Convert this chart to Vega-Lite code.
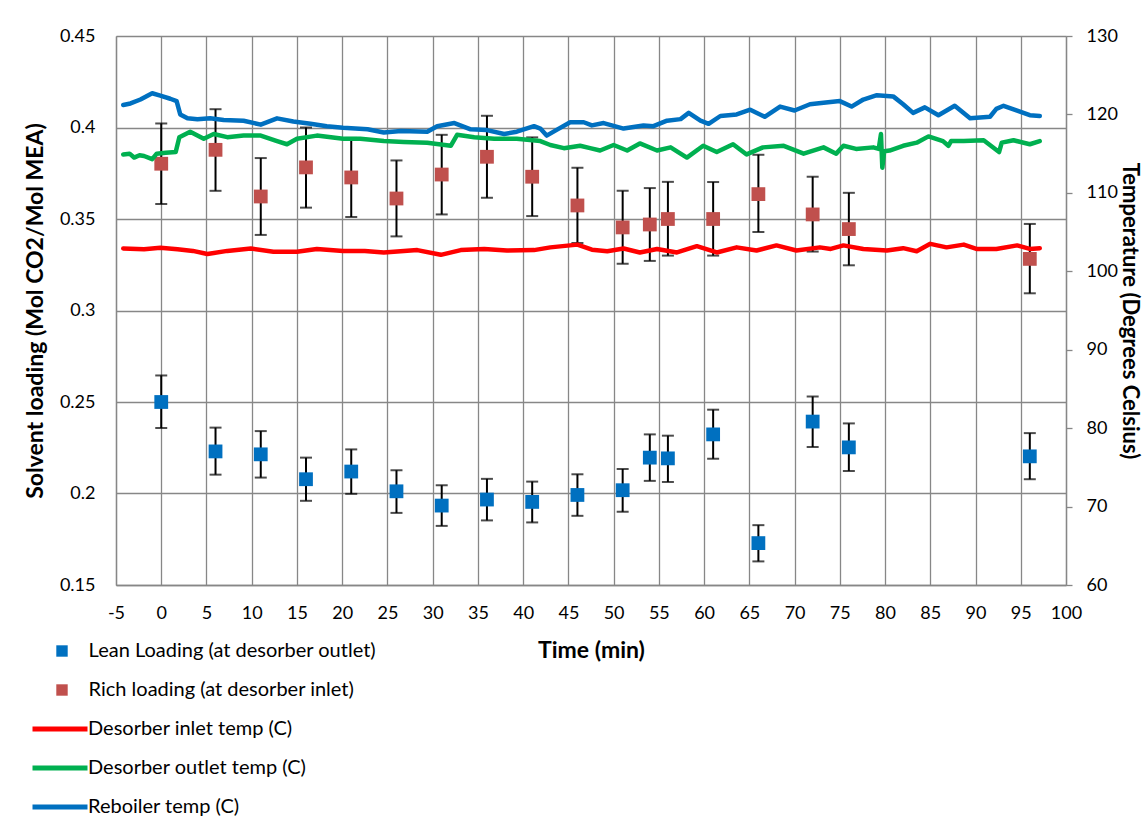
{
  "$schema": "https://vega.github.io/schema/vega-lite/v6.json",
  "width": 950,
  "height": 549,
  "autosize": {"type": "none"},
  "padding": {"left": 116, "top": 36, "right": 81, "bottom": 238},
  "background": "white",
  "config": {
    "font": "Lato",
    "view": {"stroke": null},
    "axis": {
      "labelFont": "Lato", "labelFontSize": 18, "labelColor": "#000000",
      "titleFont": "Lato", "titleFontSize": 23, "titleFontWeight": "bold", "titleColor": "#000000",
      "domainColor": "#878787", "domainWidth": 1.3,
      "gridColor": "#878787", "gridWidth": 1.3, "gridOpacity": 1,
      "tickColor": "#878787", "tickWidth": 1.3
    },
    "legend": {"labelFont": "Lato", "labelFontSize": 20, "labelColor": "#000000", "padding": 0}
  },
  "datasets": {
    "loading": [
      {"t":0,"s":"Lean Loading (at desorber outlet)","v":0.2500,"lo":0.2358,"hi":0.2645},
      {"t":6,"s":"Lean Loading (at desorber outlet)","v":0.2230,"lo":0.2103,"hi":0.2360},
      {"t":11,"s":"Lean Loading (at desorber outlet)","v":0.2214,"lo":0.2087,"hi":0.2341},
      {"t":16,"s":"Lean Loading (at desorber outlet)","v":0.2078,"lo":0.1960,"hi":0.2196},
      {"t":21,"s":"Lean Loading (at desorber outlet)","v":0.2120,"lo":0.1998,"hi":0.2241},
      {"t":26,"s":"Lean Loading (at desorber outlet)","v":0.2012,"lo":0.1894,"hi":0.2127},
      {"t":31,"s":"Lean Loading (at desorber outlet)","v":0.1934,"lo":0.1823,"hi":0.2045},
      {"t":36,"s":"Lean Loading (at desorber outlet)","v":0.1967,"lo":0.1853,"hi":0.2080},
      {"t":41,"s":"Lean Loading (at desorber outlet)","v":0.1954,"lo":0.1842,"hi":0.2065},
      {"t":46,"s":"Lean Loading (at desorber outlet)","v":0.1992,"lo":0.1878,"hi":0.2105},
      {"t":51,"s":"Lean Loading (at desorber outlet)","v":0.2018,"lo":0.1900,"hi":0.2134},
      {"t":54,"s":"Lean Loading (at desorber outlet)","v":0.2196,"lo":0.2069,"hi":0.2323},
      {"t":56,"s":"Lean Loading (at desorber outlet)","v":0.2192,"lo":0.2063,"hi":0.2316},
      {"t":61,"s":"Lean Loading (at desorber outlet)","v":0.2323,"lo":0.2190,"hi":0.2458},
      {"t":66,"s":"Lean Loading (at desorber outlet)","v":0.1729,"lo":0.1629,"hi":0.1827},
      {"t":72,"s":"Lean Loading (at desorber outlet)","v":0.2393,"lo":0.2254,"hi":0.2530},
      {"t":76,"s":"Lean Loading (at desorber outlet)","v":0.2252,"lo":0.2123,"hi":0.2383},
      {"t":96,"s":"Lean Loading (at desorber outlet)","v":0.2203,"lo":0.2078,"hi":0.2330},
      {"t":0,"s":"Rich loading (at desorber inlet)","v":0.3802,"lo":0.3582,"hi":0.4022},
      {"t":6,"s":"Rich loading (at desorber inlet)","v":0.3878,"lo":0.3654,"hi":0.4100},
      {"t":11,"s":"Rich loading (at desorber inlet)","v":0.3623,"lo":0.3413,"hi":0.3833},
      {"t":16,"s":"Rich loading (at desorber inlet)","v":0.3782,"lo":0.3562,"hi":0.4000},
      {"t":21,"s":"Rich loading (at desorber inlet)","v":0.3727,"lo":0.3511,"hi":0.3943},
      {"t":26,"s":"Rich loading (at desorber inlet)","v":0.3612,"lo":0.3405,"hi":0.3820},
      {"t":31,"s":"Rich loading (at desorber inlet)","v":0.3743,"lo":0.3525,"hi":0.3960},
      {"t":36,"s":"Rich loading (at desorber inlet)","v":0.3840,"lo":0.3616,"hi":0.4064},
      {"t":41,"s":"Rich loading (at desorber inlet)","v":0.3731,"lo":0.3516,"hi":0.3946},
      {"t":46,"s":"Rich loading (at desorber inlet)","v":0.3574,"lo":0.3369,"hi":0.3780},
      {"t":51,"s":"Rich loading (at desorber inlet)","v":0.3454,"lo":0.3256,"hi":0.3654},
      {"t":54,"s":"Rich loading (at desorber inlet)","v":0.3470,"lo":0.3271,"hi":0.3669},
      {"t":56,"s":"Rich loading (at desorber inlet)","v":0.3500,"lo":0.3300,"hi":0.3703},
      {"t":61,"s":"Rich loading (at desorber inlet)","v":0.3500,"lo":0.3300,"hi":0.3702},
      {"t":66,"s":"Rich loading (at desorber inlet)","v":0.3636,"lo":0.3429,"hi":0.3851},
      {"t":72,"s":"Rich loading (at desorber inlet)","v":0.3525,"lo":0.3322,"hi":0.3731},
      {"t":76,"s":"Rich loading (at desorber inlet)","v":0.3445,"lo":0.3247,"hi":0.3643},
      {"t":96,"s":"Rich loading (at desorber inlet)","v":0.3282,"lo":0.3094,"hi":0.3473}
    ],
    "temps": [
      {"t":-4.2,"s":"Desorber inlet temp (C)","T":102.9},
      {"t":-1.9,"s":"Desorber inlet temp (C)","T":102.8},
      {"t":-0.1,"s":"Desorber inlet temp (C)","T":103.0},
      {"t":1.8,"s":"Desorber inlet temp (C)","T":102.8},
      {"t":3.5,"s":"Desorber inlet temp (C)","T":102.6},
      {"t":5.1,"s":"Desorber inlet temp (C)","T":102.2},
      {"t":7.3,"s":"Desorber inlet temp (C)","T":102.6},
      {"t":9.9,"s":"Desorber inlet temp (C)","T":102.9},
      {"t":12.4,"s":"Desorber inlet temp (C)","T":102.5},
      {"t":15.0,"s":"Desorber inlet temp (C)","T":102.5},
      {"t":17.2,"s":"Desorber inlet temp (C)","T":102.85},
      {"t":20.1,"s":"Desorber inlet temp (C)","T":102.6},
      {"t":22.5,"s":"Desorber inlet temp (C)","T":102.6},
      {"t":24.6,"s":"Desorber inlet temp (C)","T":102.4},
      {"t":28.3,"s":"Desorber inlet temp (C)","T":102.7},
      {"t":30.9,"s":"Desorber inlet temp (C)","T":102.1},
      {"t":33.1,"s":"Desorber inlet temp (C)","T":102.7},
      {"t":35.7,"s":"Desorber inlet temp (C)","T":102.85},
      {"t":38.2,"s":"Desorber inlet temp (C)","T":102.64},
      {"t":41.2,"s":"Desorber inlet temp (C)","T":102.7},
      {"t":43.0,"s":"Desorber inlet temp (C)","T":103.05},
      {"t":46.0,"s":"Desorber inlet temp (C)","T":103.4},
      {"t":47.6,"s":"Desorber inlet temp (C)","T":102.75},
      {"t":49.3,"s":"Desorber inlet temp (C)","T":102.55},
      {"t":51.1,"s":"Desorber inlet temp (C)","T":102.9},
      {"t":52.9,"s":"Desorber inlet temp (C)","T":102.4},
      {"t":54.8,"s":"Desorber inlet temp (C)","T":102.85},
      {"t":57.0,"s":"Desorber inlet temp (C)","T":102.4},
      {"t":59.2,"s":"Desorber inlet temp (C)","T":103.2},
      {"t":61.4,"s":"Desorber inlet temp (C)","T":102.4},
      {"t":63.6,"s":"Desorber inlet temp (C)","T":103.05},
      {"t":65.8,"s":"Desorber inlet temp (C)","T":102.65},
      {"t":68.0,"s":"Desorber inlet temp (C)","T":103.3},
      {"t":70.2,"s":"Desorber inlet temp (C)","T":102.65},
      {"t":72.8,"s":"Desorber inlet temp (C)","T":103.05},
      {"t":74.0,"s":"Desorber inlet temp (C)","T":102.85},
      {"t":75.4,"s":"Desorber inlet temp (C)","T":103.3},
      {"t":77.6,"s":"Desorber inlet temp (C)","T":102.85},
      {"t":80.2,"s":"Desorber inlet temp (C)","T":102.65},
      {"t":82.0,"s":"Desorber inlet temp (C)","T":102.95},
      {"t":83.5,"s":"Desorber inlet temp (C)","T":102.55},
      {"t":85.0,"s":"Desorber inlet temp (C)","T":103.5},
      {"t":86.8,"s":"Desorber inlet temp (C)","T":103.05},
      {"t":88.7,"s":"Desorber inlet temp (C)","T":103.4},
      {"t":90.1,"s":"Desorber inlet temp (C)","T":102.85},
      {"t":92.3,"s":"Desorber inlet temp (C)","T":102.85},
      {"t":94.6,"s":"Desorber inlet temp (C)","T":103.3},
      {"t":96.0,"s":"Desorber inlet temp (C)","T":102.85},
      {"t":97.1,"s":"Desorber inlet temp (C)","T":102.95},
      {"t":-4.2,"s":"Desorber outlet temp (C)","T":114.9},
      {"t":-3.5,"s":"Desorber outlet temp (C)","T":115.0},
      {"t":-3.0,"s":"Desorber outlet temp (C)","T":114.5},
      {"t":-2.4,"s":"Desorber outlet temp (C)","T":114.8},
      {"t":-1.9,"s":"Desorber outlet temp (C)","T":114.7},
      {"t":-1.0,"s":"Desorber outlet temp (C)","T":114.3},
      {"t":-0.5,"s":"Desorber outlet temp (C)","T":115.0},
      {"t":0.5,"s":"Desorber outlet temp (C)","T":115.1},
      {"t":1.6,"s":"Desorber outlet temp (C)","T":115.2},
      {"t":2.0,"s":"Desorber outlet temp (C)","T":117.1},
      {"t":3.2,"s":"Desorber outlet temp (C)","T":117.8},
      {"t":4.7,"s":"Desorber outlet temp (C)","T":116.9},
      {"t":5.8,"s":"Desorber outlet temp (C)","T":117.5},
      {"t":7.3,"s":"Desorber outlet temp (C)","T":117.1},
      {"t":9.1,"s":"Desorber outlet temp (C)","T":117.3},
      {"t":11.0,"s":"Desorber outlet temp (C)","T":117.3},
      {"t":12.8,"s":"Desorber outlet temp (C)","T":116.6},
      {"t":13.9,"s":"Desorber outlet temp (C)","T":116.2},
      {"t":15.0,"s":"Desorber outlet temp (C)","T":116.9},
      {"t":17.2,"s":"Desorber outlet temp (C)","T":117.3},
      {"t":20.1,"s":"Desorber outlet temp (C)","T":116.9},
      {"t":22.0,"s":"Desorber outlet temp (C)","T":116.9},
      {"t":24.6,"s":"Desorber outlet temp (C)","T":116.6},
      {"t":26.8,"s":"Desorber outlet temp (C)","T":116.5},
      {"t":29.4,"s":"Desorber outlet temp (C)","T":116.4},
      {"t":32.0,"s":"Desorber outlet temp (C)","T":116.0},
      {"t":32.7,"s":"Desorber outlet temp (C)","T":117.4},
      {"t":34.6,"s":"Desorber outlet temp (C)","T":117.1},
      {"t":36.8,"s":"Desorber outlet temp (C)","T":116.9},
      {"t":39.3,"s":"Desorber outlet temp (C)","T":116.9},
      {"t":41.9,"s":"Desorber outlet temp (C)","T":116.6},
      {"t":43.0,"s":"Desorber outlet temp (C)","T":116.1},
      {"t":44.5,"s":"Desorber outlet temp (C)","T":115.7},
      {"t":46.3,"s":"Desorber outlet temp (C)","T":116.0},
      {"t":47.4,"s":"Desorber outlet temp (C)","T":115.7},
      {"t":48.5,"s":"Desorber outlet temp (C)","T":115.4},
      {"t":50.0,"s":"Desorber outlet temp (C)","T":116.1},
      {"t":51.5,"s":"Desorber outlet temp (C)","T":115.4},
      {"t":52.9,"s":"Desorber outlet temp (C)","T":116.3},
      {"t":54.8,"s":"Desorber outlet temp (C)","T":115.4},
      {"t":56.3,"s":"Desorber outlet temp (C)","T":115.8},
      {"t":58.1,"s":"Desorber outlet temp (C)","T":114.5},
      {"t":59.9,"s":"Desorber outlet temp (C)","T":116.0},
      {"t":61.4,"s":"Desorber outlet temp (C)","T":115.2},
      {"t":63.2,"s":"Desorber outlet temp (C)","T":116.2},
      {"t":64.7,"s":"Desorber outlet temp (C)","T":114.9},
      {"t":66.5,"s":"Desorber outlet temp (C)","T":115.8},
      {"t":68.8,"s":"Desorber outlet temp (C)","T":116.0},
      {"t":71.0,"s":"Desorber outlet temp (C)","T":115.0},
      {"t":73.2,"s":"Desorber outlet temp (C)","T":115.8},
      {"t":74.6,"s":"Desorber outlet temp (C)","T":115.0},
      {"t":75.4,"s":"Desorber outlet temp (C)","T":116.0},
      {"t":76.8,"s":"Desorber outlet temp (C)","T":115.6},
      {"t":78.7,"s":"Desorber outlet temp (C)","T":115.8},
      {"t":79.3,"s":"Desorber outlet temp (C)","T":115.6},
      {"t":79.55,"s":"Desorber outlet temp (C)","T":117.5},
      {"t":79.7,"s":"Desorber outlet temp (C)","T":113.2},
      {"t":79.9,"s":"Desorber outlet temp (C)","T":115.3},
      {"t":80.5,"s":"Desorber outlet temp (C)","T":115.4},
      {"t":82.0,"s":"Desorber outlet temp (C)","T":116.0},
      {"t":83.5,"s":"Desorber outlet temp (C)","T":116.4},
      {"t":84.8,"s":"Desorber outlet temp (C)","T":117.2},
      {"t":86.4,"s":"Desorber outlet temp (C)","T":116.6},
      {"t":87.0,"s":"Desorber outlet temp (C)","T":116.0},
      {"t":87.3,"s":"Desorber outlet temp (C)","T":116.6},
      {"t":88.7,"s":"Desorber outlet temp (C)","T":116.6},
      {"t":90.9,"s":"Desorber outlet temp (C)","T":116.7},
      {"t":92.6,"s":"Desorber outlet temp (C)","T":115.2},
      {"t":92.9,"s":"Desorber outlet temp (C)","T":116.4},
      {"t":94.2,"s":"Desorber outlet temp (C)","T":116.7},
      {"t":96.0,"s":"Desorber outlet temp (C)","T":116.2},
      {"t":97.1,"s":"Desorber outlet temp (C)","T":116.6},
      {"t":-4.2,"s":"Reboiler temp (C)","T":121.2},
      {"t":-3.4,"s":"Reboiler temp (C)","T":121.4},
      {"t":-2.3,"s":"Reboiler temp (C)","T":121.9},
      {"t":-1.0,"s":"Reboiler temp (C)","T":122.7},
      {"t":-0.1,"s":"Reboiler temp (C)","T":122.4},
      {"t":1.0,"s":"Reboiler temp (C)","T":122.0},
      {"t":1.7,"s":"Reboiler temp (C)","T":121.7},
      {"t":2.1,"s":"Reboiler temp (C)","T":120.0},
      {"t":2.9,"s":"Reboiler temp (C)","T":119.5},
      {"t":4.0,"s":"Reboiler temp (C)","T":119.4},
      {"t":5.4,"s":"Reboiler temp (C)","T":119.5},
      {"t":6.9,"s":"Reboiler temp (C)","T":119.3},
      {"t":9.1,"s":"Reboiler temp (C)","T":119.2},
      {"t":11.0,"s":"Reboiler temp (C)","T":118.7},
      {"t":12.8,"s":"Reboiler temp (C)","T":119.5},
      {"t":14.6,"s":"Reboiler temp (C)","T":119.1},
      {"t":16.5,"s":"Reboiler temp (C)","T":118.8},
      {"t":18.3,"s":"Reboiler temp (C)","T":118.5},
      {"t":20.1,"s":"Reboiler temp (C)","T":118.3},
      {"t":22.8,"s":"Reboiler temp (C)","T":118.1},
      {"t":24.6,"s":"Reboiler temp (C)","T":117.7},
      {"t":26.5,"s":"Reboiler temp (C)","T":117.9},
      {"t":29.4,"s":"Reboiler temp (C)","T":117.8},
      {"t":30.5,"s":"Reboiler temp (C)","T":118.5},
      {"t":32.4,"s":"Reboiler temp (C)","T":118.9},
      {"t":34.2,"s":"Reboiler temp (C)","T":118.1},
      {"t":36.0,"s":"Reboiler temp (C)","T":118.0},
      {"t":37.9,"s":"Reboiler temp (C)","T":117.5},
      {"t":39.3,"s":"Reboiler temp (C)","T":117.8},
      {"t":41.2,"s":"Reboiler temp (C)","T":118.5},
      {"t":41.9,"s":"Reboiler temp (C)","T":118.2},
      {"t":42.6,"s":"Reboiler temp (C)","T":117.3},
      {"t":43.8,"s":"Reboiler temp (C)","T":118.1},
      {"t":45.2,"s":"Reboiler temp (C)","T":119.0},
      {"t":46.7,"s":"Reboiler temp (C)","T":119.0},
      {"t":47.6,"s":"Reboiler temp (C)","T":118.6},
      {"t":48.9,"s":"Reboiler temp (C)","T":118.9},
      {"t":51.1,"s":"Reboiler temp (C)","T":118.2},
      {"t":53.3,"s":"Reboiler temp (C)","T":118.6},
      {"t":54.4,"s":"Reboiler temp (C)","T":118.5},
      {"t":55.9,"s":"Reboiler temp (C)","T":119.2},
      {"t":57.4,"s":"Reboiler temp (C)","T":119.4},
      {"t":58.3,"s":"Reboiler temp (C)","T":120.2},
      {"t":59.6,"s":"Reboiler temp (C)","T":119.2},
      {"t":60.5,"s":"Reboiler temp (C)","T":118.8},
      {"t":61.8,"s":"Reboiler temp (C)","T":119.8},
      {"t":63.6,"s":"Reboiler temp (C)","T":120.0},
      {"t":65.1,"s":"Reboiler temp (C)","T":120.6},
      {"t":66.7,"s":"Reboiler temp (C)","T":119.7},
      {"t":68.4,"s":"Reboiler temp (C)","T":121.0},
      {"t":70.0,"s":"Reboiler temp (C)","T":120.5},
      {"t":71.7,"s":"Reboiler temp (C)","T":121.3},
      {"t":73.2,"s":"Reboiler temp (C)","T":121.5},
      {"t":75.0,"s":"Reboiler temp (C)","T":121.7},
      {"t":76.3,"s":"Reboiler temp (C)","T":121.0},
      {"t":77.6,"s":"Reboiler temp (C)","T":121.9},
      {"t":79.1,"s":"Reboiler temp (C)","T":122.45},
      {"t":80.9,"s":"Reboiler temp (C)","T":122.3},
      {"t":82.0,"s":"Reboiler temp (C)","T":121.3},
      {"t":83.1,"s":"Reboiler temp (C)","T":120.2},
      {"t":84.4,"s":"Reboiler temp (C)","T":120.9},
      {"t":85.9,"s":"Reboiler temp (C)","T":119.9},
      {"t":87.7,"s":"Reboiler temp (C)","T":121.1},
      {"t":89.4,"s":"Reboiler temp (C)","T":119.5},
      {"t":91.6,"s":"Reboiler temp (C)","T":119.7},
      {"t":92.3,"s":"Reboiler temp (C)","T":120.7},
      {"t":93.1,"s":"Reboiler temp (C)","T":121.1},
      {"t":94.6,"s":"Reboiler temp (C)","T":120.5},
      {"t":96.0,"s":"Reboiler temp (C)","T":119.9},
      {"t":97.1,"s":"Reboiler temp (C)","T":119.8}
    ]
  },
  "resolve": {"scale": {"y": "independent"}},
  "layer": [
    {
      "data": {"name": "loading"},
      "layer": [
        {
          "mark": {"type": "rule", "color": "#000000", "strokeWidth": 2},
          "encoding": {
            "x": {"field": "t", "type": "quantitative", "title": "Time (min)",
                  "scale": {"domain": [-5, 100], "nice": false, "zero": false},
                  "axis": {"values": [-5,0,5,10,15,20,25,30,35,40,45,50,55,60,65,70,75,80,85,90,95,100],
                           "labelExpr": "replace(datum.label, '\u2212', '-')",
                           "grid": true, "ticks": false, "labelPadding": 19, "titlePadding": 17, "labelFlush": false}},
            "y": {"field": "lo", "type": "quantitative", "title": "Solvent loading (Mol CO2/Mol MEA)",
                  "scale": {"domain": [0.15, 0.45], "nice": false, "zero": false},
                  "axis": {"orient": "left", "values": [0.15,0.2,0.25,0.3,0.35,0.4,0.45], "format": "~g",
                           "grid": true, "ticks": false, "labelPadding": 21, "titlePadding": 12}},
            "y2": {"field": "hi"}
          }
        },
        {
          "mark": {"type": "tick", "orient": "horizontal", "color": "#000000", "size": 12, "thickness": 2},
          "encoding": {
            "x": {"field": "t", "type": "quantitative", "title": "Time (min)", "scale": {"domain": [-5, 100], "nice": false, "zero": false}},
            "y": {"field": "lo", "type": "quantitative", "title": "Solvent loading (Mol CO2/Mol MEA)", "scale": {"domain": [0.15, 0.45], "nice": false, "zero": false}}
          }
        },
        {
          "mark": {"type": "tick", "orient": "horizontal", "color": "#000000", "size": 12, "thickness": 2},
          "encoding": {
            "x": {"field": "t", "type": "quantitative", "title": "Time (min)", "scale": {"domain": [-5, 100], "nice": false, "zero": false}},
            "y": {"field": "hi", "type": "quantitative", "title": "Solvent loading (Mol CO2/Mol MEA)", "scale": {"domain": [0.15, 0.45], "nice": false, "zero": false}}
          }
        },
        {
          "mark": {"type": "square", "size": 190, "opacity": 1},
          "encoding": {
            "x": {"field": "t", "type": "quantitative", "title": "Time (min)", "scale": {"domain": [-5, 100], "nice": false, "zero": false}},
            "y": {"field": "v", "type": "quantitative", "title": "Solvent loading (Mol CO2/Mol MEA)", "scale": {"domain": [0.15, 0.45], "nice": false, "zero": false}},
            "fill": {"field": "s", "type": "nominal",
                     "scale": {"domain": ["Lean Loading (at desorber outlet)", "Rich loading (at desorber inlet)"], "range": ["#0070C0", "#C0504D"]},
                     "legend": {"title": null, "orient": "none", "legendX": -64, "legendY": 605, "direction": "vertical", "columns": 1,
                                "symbolType": "square", "symbolSize": 130, "symbolStrokeWidth": 0, "symbolOpacity": 1,
                                "clipHeight": 20, "rowPadding": 19, "labelOffset": 16.6, "labelFontSize": 20, "labelLimit": 400}}
          }
        }
      ]
    },
    {
      "data": {"name": "temps"},
      "mark": {"type": "line", "strokeWidth": 4.5, "strokeCap": "round", "strokeJoin": "round"},
      "encoding": {
        "x": {"field": "t", "type": "quantitative", "title": "Time (min)", "scale": {"domain": [-5, 100], "nice": false, "zero": false}},
        "y": {"field": "T", "type": "quantitative", "title": "Temperature (Degrees Celsius)",
              "scale": {"domain": [60, 130], "nice": false, "zero": false},
              "axis": {"orient": "right", "values": [60,70,80,90,100,110,120,130], "format": "d", "grid": false,
                       "ticks": true, "tickSize": 6, "labelPadding": 14, "titlePadding": 0, "titleFontSize": 22}},
        "stroke": {"field": "s", "type": "nominal",
                   "scale": {"domain": ["Desorber inlet temp (C)", "Desorber outlet temp (C)", "Reboiler temp (C)"], "range": ["#FF0000", "#00B050", "#0070C0"]},
                   "legend": {"title": null, "orient": "none", "legendX": -86, "legendY": 683, "direction": "vertical", "columns": 1,
                              "symbolType": "stroke", "symbolSize": 3025, "symbolStrokeWidth": 5,
                              "clipHeight": 20, "rowPadding": 19, "labelOffset": -2, "labelFontSize": 20, "labelLimit": 400}}
      }
    }
  ]
}
